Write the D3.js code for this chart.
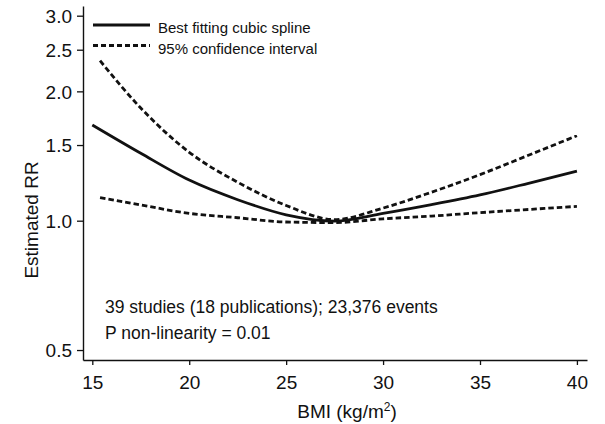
<!DOCTYPE html>
<html>
<head>
<meta charset="utf-8">
<script src="https://cdn.jsdelivr.net/npm/d3@7"></script>
<style>
  html, body { margin: 0; padding: 0; background: #fff; }
  svg { display: block; font-family: "Liberation Sans", Arial, sans-serif; }
</style>
</head>
<body>
<svg id="chart" width="605" height="424"></svg>
<script>
// Dose-response of BMI and estimated relative risk
const bmiFit = [15, 17.5, 20, 22.5, 25, 27.5, 30, 32.5, 35, 37.5, 40];
const rrFit = [1.67, 1.435, 1.243, 1.119, 1.032, 0.998, 1.04, 1.09, 1.148, 1.222, 1.305];

const bmiCI = [15.4, 17.5, 20, 22.5, 25, 27.5, 30, 32.5, 35, 37.5, 40];
const rrUpper = [2.357, 1.829, 1.443, 1.229, 1.085, 1.006, 1.07, 1.165, 1.28, 1.42, 1.577];
const rrLower = [1.131, 1.088, 1.04, 1.016, 0.993, 0.99, 1.01, 1.025, 1.044, 1.062, 1.08];

const xTicks = [15, 20, 25, 30, 35, 40];
const yTicks = [0.5, 1.0, 1.5, 2.0, 2.5, 3.0];

const legendLabels = ["Best fitting cubic spline", "95% confidence interval"];
const noteLines = ["39 studies (18 publications); 23,376 events", "P non-linearity = 0.01"];

const svg = d3.select("#chart");
const ink = "#111";

const x = d3.scaleLinear().domain([14.52, 40.52]).range([83, 587]);
const y = d3.scaleLog().domain([0.474, 3.16]).range([360, 6]);

// axes
const xAxis = svg.append("g")
  .attr("transform", `translate(0,${y.range()[0]})`)
  .call(d3.axisBottom(x).tickValues(xTicks).tickSize(5).tickSizeOuter(0).tickPadding(11)
        .tickFormat(d3.format("d")));
const yAxis = svg.append("g")
  .attr("transform", `translate(${x.range()[0]},0)`)
  .call(d3.axisLeft(y).tickValues(yTicks).tickSize(6).tickSizeOuter(0).tickPadding(5)
        .tickFormat(d3.format(".1f")));

[xAxis, yAxis].forEach(g => {
  g.select(".domain").attr("stroke", ink).attr("stroke-width", 1.4);
  g.selectAll(".tick line").attr("stroke", ink).attr("stroke-width", 1.3);
  g.selectAll(".tick text").attr("fill", ink).style("font-size", "19px")
    .style("font-family", "'Liberation Sans', Arial, sans-serif");
});
yAxis.selectAll(".tick text").attr("dy", "0.36em");

// axis titles
const xTitle = svg.append("text")
  .attr("x", 347).attr("y", 418)
  .attr("text-anchor", "middle")
  .attr("fill", ink).style("font-size", "19px");
xTitle.append("tspan").text("BMI (kg/m");
xTitle.append("tspan").attr("dy", -7).style("font-size", "12px").text("2");
xTitle.append("tspan").attr("dy", 7).text(")");

svg.append("text")
  .attr("transform", "translate(38,220) rotate(-90)")
  .attr("text-anchor", "middle")
  .attr("fill", ink).style("font-size", "19px")
  .text("Estimated RR");

// curves
const line = d3.line()
  .x(d => x(d[0]))
  .y(d => y(d[1]))
  .curve(d3.curveMonotoneX);

const fit = bmiFit.map((b, i) => [b, rrFit[i]]);
const upper = bmiCI.map((b, i) => [b, rrUpper[i]]);
const lower = bmiCI.map((b, i) => [b, rrLower[i]]);

const dash = "5.5,3";

[upper, lower].forEach(pts => {
  svg.append("path").datum(pts)
    .attr("d", line).attr("fill", "none")
    .attr("stroke", ink).attr("stroke-width", 2.8)
    .attr("stroke-dasharray", dash);
});
svg.append("path").datum(fit)
  .attr("d", line).attr("fill", "none")
  .attr("stroke", ink).attr("stroke-width", 2.8);

// legend
const legend = svg.append("g").attr("transform", "translate(93,0)");
const legendRows = [
  { label: legendLabels[0], dash: null, y: 25 },
  { label: legendLabels[1], dash: "5,3", y: 45.5 }
];
legendRows.forEach(r => {
  legend.append("line")
    .attr("x1", 0).attr("x2", 57).attr("y1", r.y).attr("y2", r.y)
    .attr("stroke", ink).attr("stroke-width", 3)
    .attr("stroke-dasharray", r.dash);
  legend.append("text")
    .attr("x", 65).attr("y", r.y + 8)
    .attr("fill", ink).style("font-size", "15px")
    .text(r.label);
});

// annotation
svg.append("g").selectAll("text")
  .data(noteLines)
  .join("text")
  .attr("x", 105)
  .attr("y", (d, i) => 313 + i * 26)
  .attr("fill", ink).style("font-size", "17.5px")
  .text(d => d);
</script>
</body>
</html>
